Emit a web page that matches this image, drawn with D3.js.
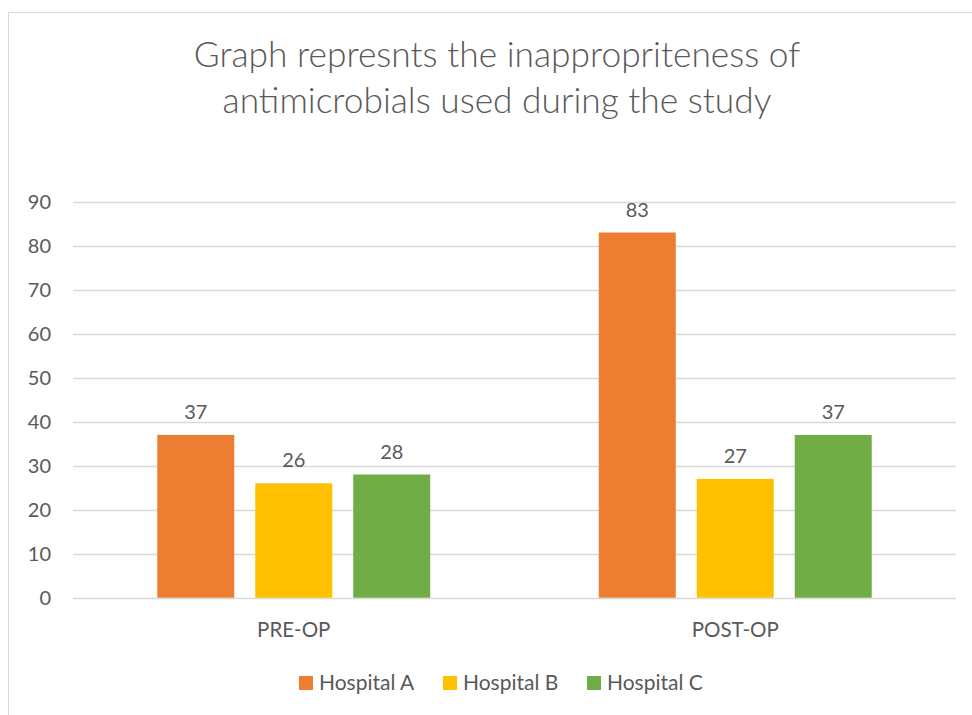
<!DOCTYPE html>
<html>
<head>
<meta charset="utf-8">
<script src="https://cdn.jsdelivr.net/npm/d3@7"></script>
<style>
  body { margin: 0; background: #fff; }
  text { font-family: Lato, "Open Sans", sans-serif; fill: #595959; }
</style>
</head>
<body>
<div id="chart"></div>
<script>
// data
var categories = ["PRE-OP", "POST-OP"];
var series = ["Hospital A", "Hospital B", "Hospital C"];
var hospitalA = [37, 83];
var hospitalB = [26, 27];
var hospitalC = [28, 37];
var yTicks = [0, 10, 20, 30, 40, 50, 60, 70, 80, 90];
var titleLines = ["Graph represnts the inappropriteness of", "antimicrobials used during the study"];
var colors = ["#ED7D31", "#FFC000", "#70AD47"];

var values = [hospitalA, hospitalB, hospitalC];

var width = 972, height = 715;
var margin = {top: 201.7, right: 16, bottom: 117.3, left: 73};

var svg = d3.select("#chart")
    .append("svg")
    .attr("width", width)
    .attr("height", height);

// chart frame (only top and left edges are visible)
svg.append("line").attr("x1", 8.5).attr("x2", width).attr("y1", 12.5).attr("y2", 12.5)
    .attr("stroke", "#d9d9d9");
svg.append("line").attr("x1", 8.5).attr("x2", 8.5).attr("y1", 12.5).attr("y2", height)
    .attr("stroke", "#d9d9d9");

// title
svg.append("g").selectAll("text")
    .data(titleLines)
    .join("text")
    .attr("x", 497)
    .attr("y", function(d, i) { return 67 + i * 46; })
    .attr("text-anchor", "middle")
    .attr("font-size", 35.3)
    .attr("font-weight", 300)
    .text(function(d) { return d; });

var x0 = d3.scaleBand()
    .domain(categories)
    .range([margin.left, width - margin.right]);

var x1 = d3.scaleBand()
    .domain(series)
    .range([0, x0.bandwidth()])
    .paddingInner(21 / 98)
    .paddingOuter(0.86);

var y = d3.scaleLinear()
    .domain([0, 90])
    .range([height - margin.bottom, margin.top]);

// gridlines
svg.append("g").selectAll("line")
    .data(yTicks)
    .join("line")
    .attr("x1", margin.left)
    .attr("x2", width - margin.right)
    .attr("y1", function(d) { return Math.round(y(d)) + 0.5; })
    .attr("y2", function(d) { return Math.round(y(d)) + 0.5; })
    .attr("stroke", "#d9d9d9")
    .attr("stroke-width", 1.3);

// y axis labels
var yAxis = svg.append("g")
    .attr("transform", "translate(" + (margin.left - 22) + ",0)")
    .call(d3.axisLeft(y).tickValues(yTicks).tickSize(0).tickPadding(0));
yAxis.select(".domain").remove();
yAxis.selectAll("text")
    .attr("font-size", 20)
    .attr("font-family", "Lato, sans-serif")
    .attr("fill", "#595959");

// bars
var groups = svg.append("g").selectAll("g")
    .data(series)
    .join("g")
    .attr("fill", function(d, i) { return colors[i]; });

groups.selectAll("rect")
    .data(function(s, si) {
        return categories.map(function(c, ci) { return {cat: c, ser: s, value: values[si][ci]}; });
    })
    .join("rect")
    .attr("x", function(d) { return x0(d.cat) + x1(d.ser); })
    .attr("y", function(d) { return y(d.value); })
    .attr("width", x1.bandwidth())
    .attr("height", function(d) { return y(0) - y(d.value); });

// data labels
groups.selectAll("text")
    .data(function(s, si) {
        return categories.map(function(c, ci) { return {cat: c, ser: s, value: values[si][ci]}; });
    })
    .join("text")
    .attr("x", function(d) { return x0(d.cat) + x1(d.ser) + x1.bandwidth() / 2; })
    .attr("y", function(d) { return y(d.value) - 16; })
    .attr("text-anchor", "middle")
    .attr("font-size", 20)
    .text(function(d) { return d.value; });

// x axis category labels
var xAxis = svg.append("g")
    .attr("transform", "translate(0," + (height - margin.bottom) + ")")
    .call(d3.axisBottom(x0).tickSize(0).tickPadding(25));
xAxis.select(".domain").remove();
xAxis.selectAll("text")
    .attr("font-size", 20.5)
    .attr("font-family", "Lato, sans-serif")
    .attr("fill", "#595959");

// legend
var legendX = [299, 443, 587];
var legend = svg.append("g").selectAll("g")
    .data(series)
    .join("g")
    .attr("transform", function(d, i) { return "translate(" + legendX[i] + ",683)"; });
legend.append("rect")
    .attr("x", 0)
    .attr("y", -7)
    .attr("width", 14)
    .attr("height", 14)
    .attr("fill", function(d, i) { return colors[i]; });
legend.append("text")
    .attr("x", 20)
    .attr("dy", "0.35em")
    .attr("font-size", 21)
    .text(function(d) { return d; });
</script>
</body>
</html>
